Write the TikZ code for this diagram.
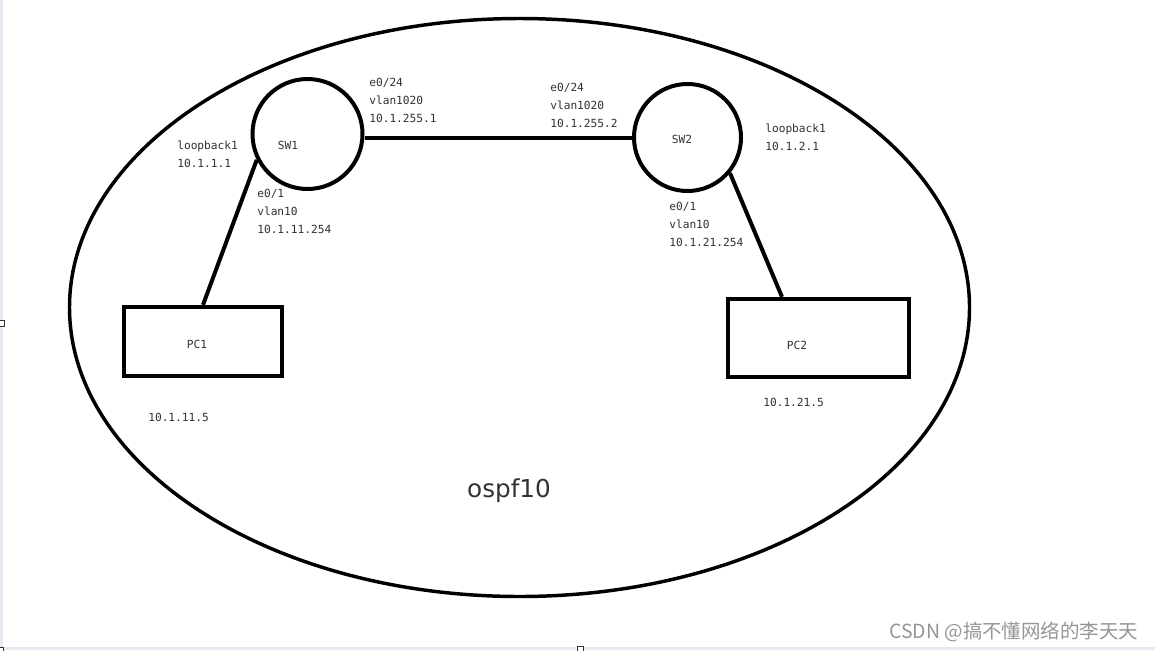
\documentclass[tikz,border=0pt]{standalone}
\usepackage{fontspec}
\setmainfont{DejaVu Sans}
\newfontfamily\monof{DejaVu Sans Mono}
\newfontfamily\cjkf{Noto Sans CJK SC}
\usetikzlibrary{shapes.geometric}
\definecolor{txt}{RGB}{50,50,50}
\definecolor{edgeband}{RGB}{230,234,241}
\definecolor{wm}{RGB}{150,150,150}
\begin{document}
\begin{tikzpicture}[x=0.75pt,y=-0.75pt,
  swbox/.style={draw, circle, line width=3pt, inner sep=0pt},
  pcbox/.style={draw, rectangle, line width=3.2pt, inner sep=0pt},
  lbl/.style={font=\monof\fontsize{8.4}{13.5}\selectfont, text=txt, inner sep=0pt, align=left, anchor=west},
  devname/.style={font=\monof\fontsize{8.4}{13.5}\selectfont, text=txt, inner sep=0pt},
  link/.style={line width=3pt},
  handle/.style={draw=black!80, fill=white, line width=0.6pt}]
\useasboundingbox (0,0) rectangle (1155,650);
\fill[white] (0,0) rectangle (1155,650);
\fill[edgeband] (0,0) rectangle (3,650);
\fill[edgeband] (0,646.5) rectangle (1155,650);
\draw[handle] (-1,320) rectangle (4,326);
\draw[handle] (577,646.5) rectangle (583,652);
\draw[handle] (-1,647) rectangle (3,652);

% OSPF area
\draw[line width=2.6pt] (519.5,307.5) ellipse [x radius=450, y radius=289];
\node[font=\fontsize{18.5}{21}\selectfont, text=txt, inner sep=0pt] (area) at (509,491) {ospf10};

% devices
\node[swbox, minimum size=82.5pt] (sw1) at (307.5,134) {};
\node[swbox, minimum size=80.25pt] (sw2) at (687.5,137.5) {};
\node[pcbox, minimum width=118.5pt, minimum height=51.75pt] (pc1) at (203,341.5) {};
\node[pcbox, minimum width=135.75pt, minimum height=58.5pt] (pc2) at (818.5,338) {};

\node[devname] (sw1name) at (288,145) {SW1};
\node[devname] (sw2name) at (682,139) {SW2};
\node[devname] (pc1name) at (197,344) {PC1};
\node[devname] (pc2name) at (797,345) {PC2};

% links
\draw[link] (sw1.east |- sw2.west) -- (sw2.west);
\draw[link] (sw1.207) -- (pc1.north);
\coordinate (pc2top) at ([xshift=-27.4pt]pc2.north);
\draw[link] (sw2.320) -- (pc2top);

% interface labels
\node[lbl] (sw1up) at (369,100) {e0/24\\vlan1020\\10.1.255.1};
\node[lbl] (sw2up) at (550,105) {e0/24\\vlan1020\\10.1.255.2};
\node[lbl] (lo1) at (177,154) {loopback1\\10.1.1.1};
\node[lbl] (lo2) at (765,137.5) {loopback1\\10.1.2.1};
\node[lbl] (sw1dn) at (257,211) {e0/1\\vlan10\\10.1.11.254};
\node[lbl] (sw2dn) at (669,224) {e0/1\\vlan10\\10.1.21.254};
\node[lbl] (pc1ip) at (148,417) {10.1.11.5};
\node[lbl] (pc2ip) at (763,402) {10.1.21.5};

% watermark
\node[font=\cjkf\fontsize{14.6}{18}\selectfont, text=wm, anchor=west, inner sep=0pt] (wmk) at (889,632) {CSDN @搞不懂网络的李天天};
\end{tikzpicture}
\end{document}
